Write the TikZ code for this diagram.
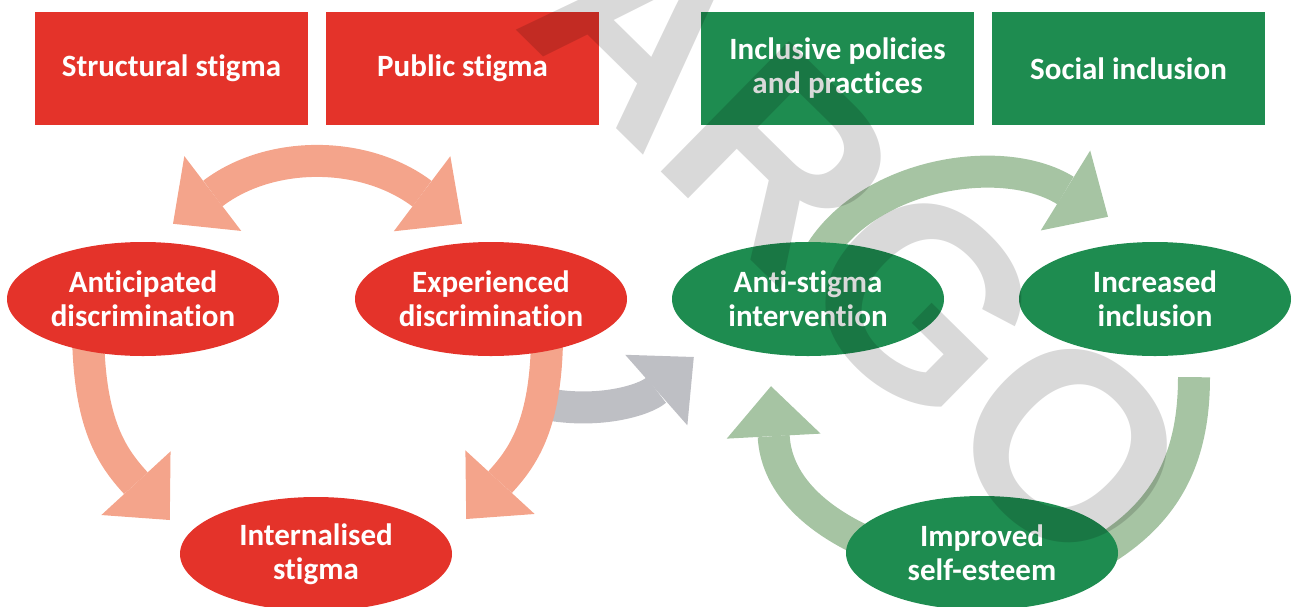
\documentclass[tikz,border=0pt]{standalone}
\usepackage{fontspec}
\setmainfont{Carlito}[Ligatures=NoCommon]
\newfontfamily\markfont{Liberation Sans}
\usetikzlibrary{shapes.geometric,arrows.meta,calc,backgrounds}
\definecolor{stigred}{HTML}{E4332A}
\definecolor{inclgreen}{HTML}{1E8C50}
\definecolor{salmon}{HTML}{F4A48B}
\definecolor{palegreen}{HTML}{A6C4A3}
\definecolor{shiftgray}{HTML}{BEBFC4}

\begin{document}
\begin{tikzpicture}[x=1pt,y=-1pt,
  label/.style={text=white,align=center,inner sep=0pt,font=\bfseries\fontsize{31}{34}\selectfont},
  box/.style={label,rectangle,minimum width=273pt,minimum height=113pt},
  oval/.style={label,ellipse,minimum width=272pt,minimum height=114pt},
  flow/.style={line width=32pt,-{Triangle[width=94pt,length=50pt,line width=0pt]}},
  ]
\clip (0,0) rectangle (1294,606);
\node[box,fill=stigred] (structural) at (171.5,68.5) {Structural stigma};
\node[box,fill=stigred] (public) at (462.5,68.5) {Public stigma};
\node[box,fill=inclgreen] (policies) at (837.5,68.5) {Inclusive policies\\and practices};
\node[box,fill=inclgreen] (social) at (1128.5,68.5) {Social inclusion};
\node[oval,fill=stigred] (anticip) at (143,299) {Anticipated\\discrimination};
\node[oval,fill=stigred] (experi) at (491,299) {Experienced\\discrimination};
\node[oval,fill=stigred] (internal) at (316,554) {Internalised\\stigma};
\node[oval,fill=inclgreen] (antistig) at (808,299) {Anti-stigma\\intervention};
\node[oval,fill=inclgreen] (increased) at (1155,299) {Increased\\inclusion};
\node[oval,fill=inclgreen] (improved) at (982,553) {Improved\\self-esteem};
\begin{pgfonlayer}{background}
\draw[flow,shiftgray] ($(experi.center)+(55,105)$) .. controls (600,414) and (645,400) .. ($(antistig.west)+(22,58)$);
\draw[flow,salmon,{Triangle[width=94pt,length=50pt,line width=0pt]}-{Triangle[width=94pt,length=50pt,line width=0pt]}] ($(anticip.north)+(30,-18)$) .. controls (270,150) and (364,150) .. ($(experi.north)+(-29,-18)$);
\draw[flow,salmon] ($(anticip.center)+(-55,20)$) .. controls (87,420) and (110,455) .. ($(internal.west)+(-10,-34)$);
\draw[flow,salmon] ($(experi.center)+(56,20)$) .. controls (549,420) and (525,455) .. ($(internal.east)+(14,-35)$);
\draw[flow,palegreen] ($(antistig.center)+(7,-37)$) .. controls (860,175) and (1000,150) .. ($(increased.north)+(-47,-25)$);
\draw[palegreen,line width=32pt] ($(increased.south)+(39,21)$) .. controls (1194,460) and (1165,515) .. ($(improved.center)+(113,2)$);
\draw[flow,palegreen] ($(improved.center)+(-102,-5)$) .. controls (810,520) and (776,480) .. ($(antistig.south)+(-37,30)$);
\end{pgfonlayer}
\node[rotate=-44.5,anchor=base west,text=black,text opacity=0.15,inner sep=0pt,font=\markfont\bfseries\fontsize{266}{266}\selectfont] (mark) at (511,25) {ARGO};
\end{tikzpicture}
\end{document}
